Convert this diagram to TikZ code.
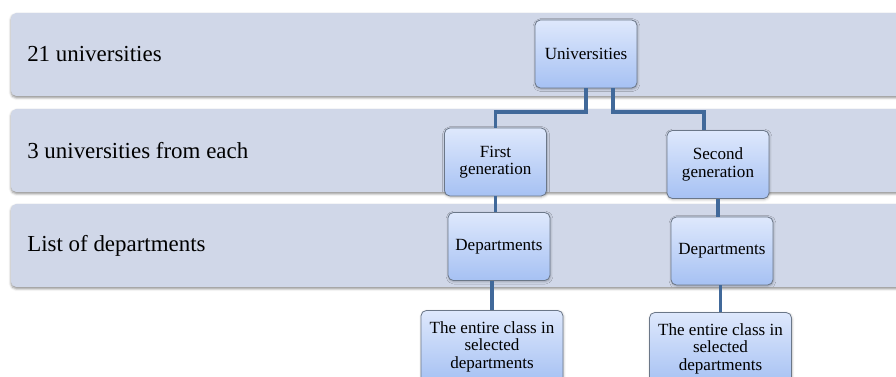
\documentclass[tikz,border=0pt]{standalone}
\usepackage{fontspec}
\setmainfont{Liberation Serif}
\usetikzlibrary{positioning,calc,shadows.blur}
\definecolor{Band}{HTML}{D0D7E8}
\definecolor{BoxTop}{HTML}{DEE8FC}
\definecolor{BoxBot}{HTML}{A6C1F3}
\definecolor{BoxLine}{HTML}{6B7788}
\definecolor{Link}{HTML}{41699A}
\tikzset{
  band/.style={fill=Band,rounded corners=4pt,blur shadow={shadow xshift=0pt,shadow yshift=-1.3pt,shadow blur steps=4,shadow opacity=45}},
  bandtext/.style={anchor=west,inner sep=0pt,text=black,font=\fontsize{17.2}{20}\selectfont},
  unit/.style={draw=BoxLine,line width=0.6pt,rounded corners=4pt,top color=BoxTop,bottom color=BoxBot,
    minimum width=76.5pt,minimum height=51pt,inner sep=1pt,align=center,text=black,
    font=\fontsize{12.8}{13.2}\selectfont,blur shadow={shadow xshift=0.4pt,shadow yshift=-0.8pt,shadow blur steps=3,shadow opacity=30}},
  wideunit/.style={unit,minimum width=106.5pt,minimum height=54pt},
  link/.style={draw=Link,line width=2.6pt}
}
\begin{document}
\begin{tikzpicture}[x=0.75pt,y=-0.75pt]
  \useasboundingbox (0,0) rectangle (896,377);
  \clip (0,0) rectangle (896,377);
  % levels
  \fill[band] (11,13) rectangle (910,96);
  \fill[band] (11,109) rectangle (910,192);
  \fill[band] (11,204) rectangle (910,287);
  \node[bandtext] (lvlA) at (27,54.5) {21 universities};
  \node[bandtext] (lvlB) at (27,150.5) {3 universities from each};
  \node[bandtext] (lvlC) at (27,245.5) {List of departments};
  % hierarchy
  \coordinate (bus) at (0,112);
  \node[unit] (univ) at (586,54) {Universities};
  \node[unit] (genA) at (495.5,162) {First\\generation};
  \node[unit] (genB) at (718,164.5) {Second\\generation};
  \node[unit] (depA) at (499,246.5) {Departments};
  \node[unit] (depB) at (722,251) {Departments};
  \node[wideunit] (clsA) at (492,346.5) {The entire class in\\selected\\departments};
  \node[wideunit] (clsB) at (720.5,348.5) {The entire class in\\selected\\departments};
  \draw[link] (univ.south) -- (univ.south |- bus) -| (genA.north);
  \draw[link] ([xshift=20.25pt]univ.south) -- ([xshift=20.25pt]univ.south |- bus) -| ([xshift=-10.5pt]genB.north);
  \draw[link] (genA.south) -- (genA.south |- depA.north);
  \draw[link] (genB.south) -- (genB.south |- depB.north);
  \draw[link] (clsA.north |- depA.south) -- (clsA.north);
  \draw[link] (clsB.north |- depB.south) -- (clsB.north);
\end{tikzpicture}
\end{document}
